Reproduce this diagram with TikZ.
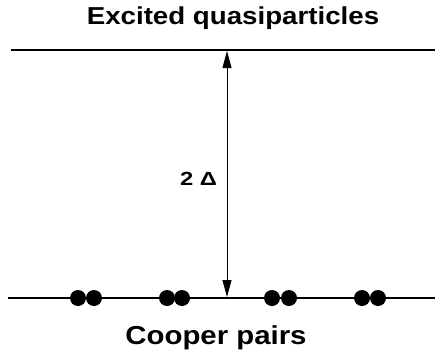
\documentclass[tikz,border=0pt]{standalone}
\usepackage{fontspec}
\setmainfont{Liberation Sans}
\usepackage{tikz}
\usetikzlibrary{positioning, arrows.meta}

\newcommand{\widetext}[2]{\scalebox{#1}[1]{#2}}

\begin{document}
\begin{tikzpicture}[
    x=1pt, y=-1pt,
    level line/.style={line width=2pt},
    gap arrow/.style={line width=0.9pt, {Triangle[length=17pt, width=9pt]}-{Triangle[length=17pt, width=9pt]}},
    band label/.style={anchor=base, inner sep=0pt},
    gap label/.style={font=\fontsize{19}{23}\selectfont\bfseries, anchor=base, inner sep=0pt}
]
\useasboundingbox (0,0) rectangle (435,356);

% --- 1. Energy levels ---
\coordinate (upL) at (11,50);
\coordinate (upR) at (435,50);
\coordinate (loL) at (8,298);
\coordinate (loR) at (435,298);

\draw[level line] (upL) -- (upR);
\draw[level line] (loL) -- (loR);

\node[band label, font=\fontsize{24.5}{28}\selectfont\bfseries] (excited) at (233,24)
    {\widetext{1.13}{Excited quasiparticles}};
\node[band label, font=\fontsize{26}{30}\selectfont\bfseries] (cooper) at (216,344)
    {\widetext{1.13}{Cooper pairs}};

% --- 2. Gap arrow ---
\coordinate (gapT) at (227,51);
\coordinate (gapB) at (227,297);
\draw[gap arrow] (gapT) -- (gapB);

\node[gap label] (gap) at (198.5,185) {\widetext{1.25}{2 Δ}};

% --- 3. Cooper pairs on the lower level ---
\foreach \a/\b in {78/94, 167/182, 272/289, 362/378}{
    \fill (\a,298) circle (8pt);
    \fill (\b,298) circle (8pt);
}

\end{tikzpicture}
\end{document}
